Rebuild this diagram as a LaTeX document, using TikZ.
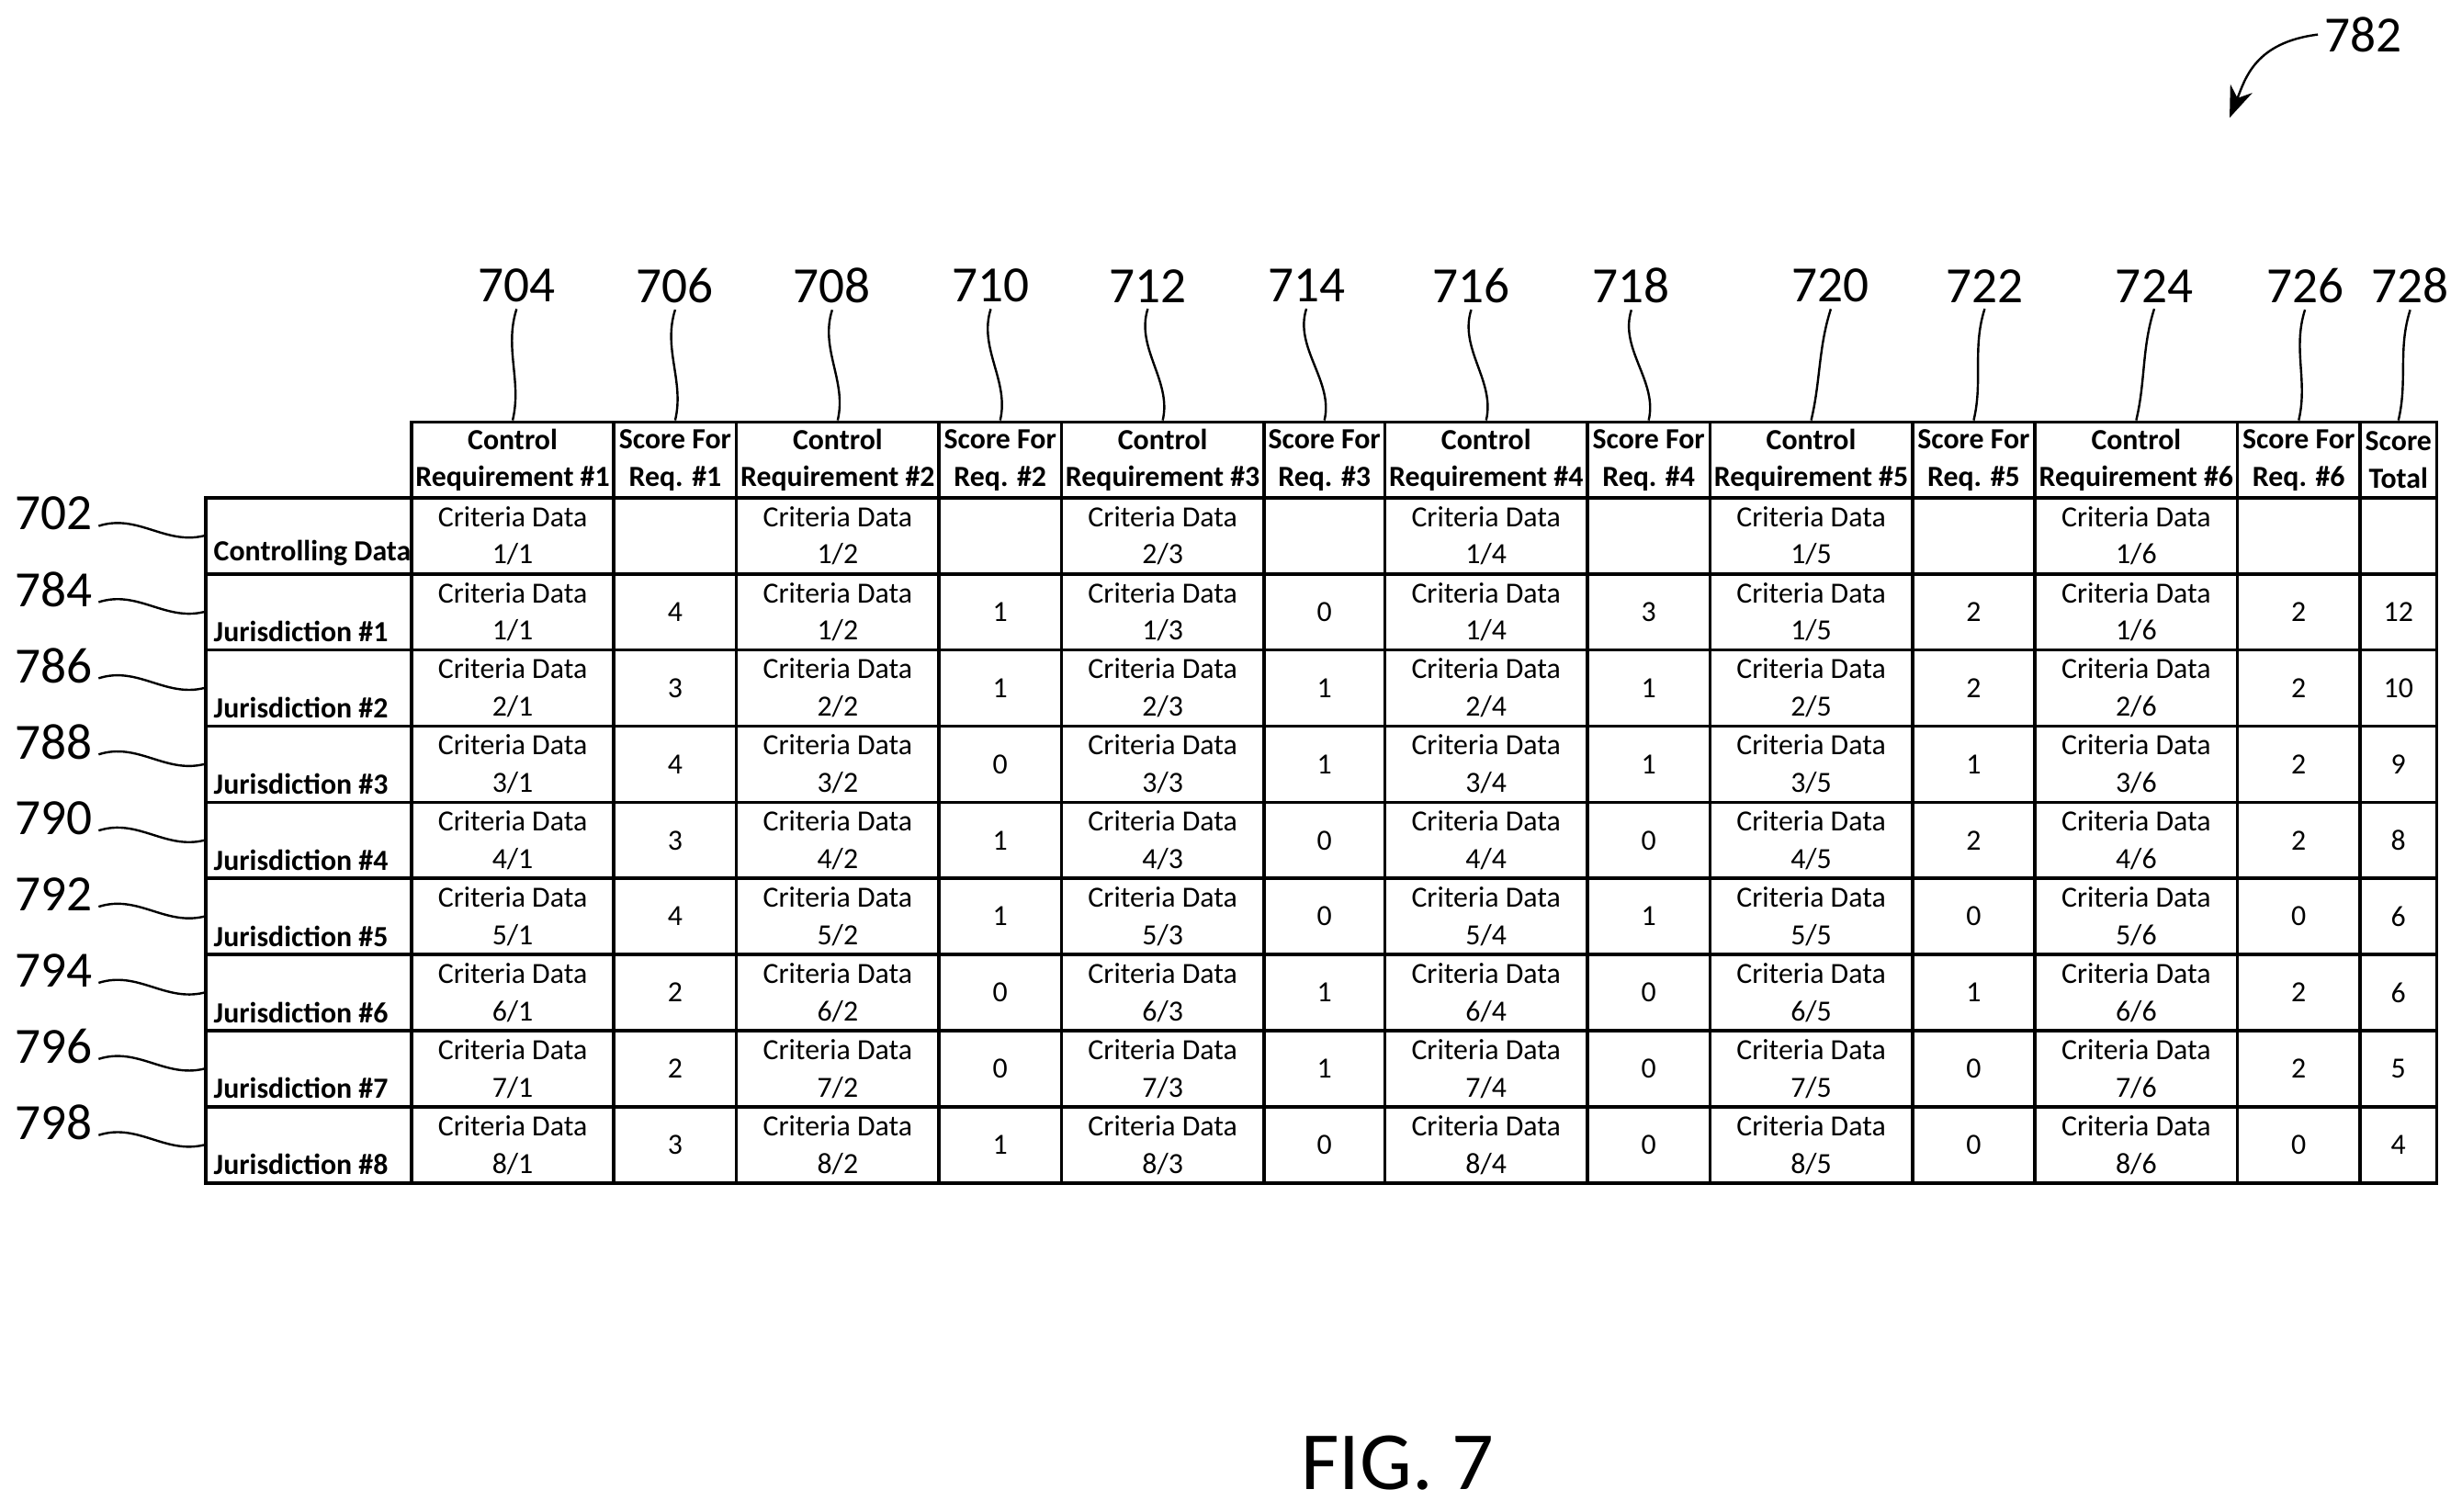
\documentclass[tikz,border=0pt]{standalone}
\usepackage{fontspec}
\setmainfont{Carlito}
\usetikzlibrary{arrows.meta}
\tikzset{
    cell/.style = {draw, semithick, inner sep=0pt, font=\fontsize{5.3}{6.8}\selectfont, align=center},
    head/.style = {cell, font=\fontsize{5.3}{6.8}\selectfont\bfseries},
    refnum/.style = {font=\fontsize{9.2}{10}\selectfont, inner sep=1pt},
    lead/.style = {thin},
}
\begin{document}
\begin{tikzpicture}[x=0.1mm, y=-0.1mm]
\useasboundingbox (0,0) rectangle (1568,963);
% header row
\foreach \i/\l/\r/\t/\n/\lx in {
    1/262/391/{Control\\Requirement \#1}/704/329, 2/391/469/{Score For\\Req. \#1}/706/430,
    3/469/598/{Control\\Requirement \#2}/708/530, 4/598/676/{Score For\\Req. \#2}/710/631,
    5/676/805/{Control\\Requirement \#3}/712/731, 6/805/882/{Score For\\Req. \#3}/714/832,
    7/882/1011/{Control\\Requirement \#4}/716/937, 8/1011/1089/{Score For\\Req. \#4}/718/1039,
    9/1089/1218/{Control\\Requirement \#5}/720/1166, 10/1218/1296/{Score For\\Req. \#5}/722/1264,
    11/1296/1425/{Control\\Requirement \#6}/724/1372, 12/1425/1503/{Score For\\Req. \#6}/726/1468,
    13/1503/1552/{Score\\Total}/728/1535}{
  \node[head, minimum width={(\r-\l)*0.1mm}, minimum height=4.85mm] (h\i) at ({(\l+\r)/2},293) {\t};
  \node[refnum] (n\n) at (\lx,182) {\n};
  \draw[lead] (n\n.south) .. controls +(-8,25) and +(6,-25) .. (h\i.north);
}
% row labels
\foreach \r/\t/\n in {0/Controlling Data/702, 1/Jurisdiction \#1/784, 2/Jurisdiction \#2/786,
    3/Jurisdiction \#3/788, 4/Jurisdiction \#4/790, 5/Jurisdiction \#5/792,
    6/Jurisdiction \#6/794, 7/Jurisdiction \#7/796, 8/Jurisdiction \#8/798}{
  \node[cell, minimum width=13.1mm, minimum height=4.85mm] (rl\r) at (196.5,{341.25+48.5*\r}) {};
  \node[anchor=south west, inner sep=1pt, font=\fontsize{5.3}{6.8}\selectfont\bfseries]
    at ([xshift=0.2mm, yshift=0.2mm]rl\r.south west) {\t};
  \node[refnum] (n\n) at (34,{327+48.5*\r}) {\n};
  \draw[lead] (n\n.east) ++(0,8) coordinate (s\n) .. controls +(25,-8) and +(-25,6) .. (rl\r.west);
}
% criteria cells
\foreach \r in {0,...,8}{
  \foreach \k/\i/\l/\rr in {1/1/262/391, 2/3/469/598, 3/5/676/805, 4/7/882/1011, 5/9/1089/1218, 6/11/1296/1425}{
    \pgfmathtruncatemacro\num{\r==0 ? (\k==3 ? 2 : 1) : \r}
    \node[cell, minimum width={(\rr-\l)*0.1mm}, minimum height=4.85mm] (c\r-\i) at ({(\l+\rr)/2},{341.25+48.5*\r}) {Criteria Data\\\num/\k};
  }
}
% score cells
\foreach \r/\sa/\sb/\sc/\sd/\se/\sf/\tot in {0/{}/{}/{}/{}/{}/{}/{}, 1/4/1/0/3/2/2/12, 2/3/1/1/1/2/2/10,
    3/4/0/1/1/1/2/9, 4/3/1/0/0/2/2/8, 5/4/1/0/1/0/0/6, 6/2/0/1/0/1/2/6,
    7/2/0/1/0/0/2/5, 8/3/1/0/0/0/0/4}{
  \foreach \i/\l/\rr/\v in {2/391/469/\sa, 4/598/676/\sb, 6/805/882/\sc, 8/1011/1089/\sd,
      10/1218/1296/\se, 12/1425/1503/\sf, 13/1503/1552/\tot}{
    \node[cell, minimum width={(\rr-\l)*0.1mm}, minimum height=4.85mm] (c\r-\i) at ({(\l+\rr)/2},{341.25+48.5*\r}) {\v};
  }
}
% figure reference
\node[refnum] (n782) at (1505,22) {782};
\draw[lead, -{Stealth[length=2mm]}] (n782.west) .. controls +(-40,5) and +(10,-25) .. (1420,75);
\node[font=\fontsize{15}{16}\selectfont] (fig) at (890,932) {FIG. 7};
\end{tikzpicture}
\end{document}
